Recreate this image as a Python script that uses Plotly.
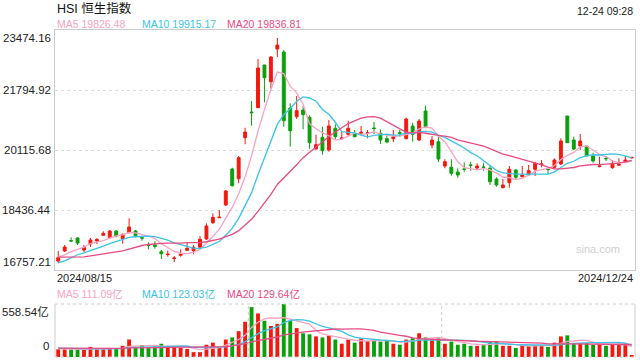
import plotly.graph_objects as go

# ---------------- data ----------------
date_labels = ["2024/08/15", "2024/12/24"]
title_text = "HSI 恒生指数"
time_text = "12-24 09:28"

opens = [17009, 17289, 17580, 17653, 17317, 17485, 17570, 17728, 17661, 17848,
         17633, 17801, 17848, 17660, 17460, 17457, 17269, 17185, 17080, 17168,
         17308, 17297, 17392, 17626, 18081, 18220, 18577, 19584, 19312, 20460,
         21179, 21300, 22494, 22027, 22942, 22858, 21291, 21048, 21235, 21030,
         20143, 20471, 20115, 20723, 20430, 20555, 20563, 20583, 20583, 20732,
         20583, 20432, 20432, 20600, 20432, 20787, 20395, 21207, 20255, 20348,
         19667, 19631, 19500, 19585, 19695, 19611, 19640, 19604, 19304, 19061,
         19201, 19556, 19369, 19416, 19575, 19705, 19580, 19631, 19724, 21067,
         20395, 20227, 20227, 19948, 19650, 19880, 19620, 19690, 19790, 19895]
highs = [17289, 17457, 17672, 17672, 17457, 17653, 17650, 17840, 17877, 17877,
         17784, 18204, 17877, 17717, 17532, 17560, 17317, 17297, 17149, 17336,
         17532, 17457, 17709, 18064, 18344, 18436, 18996, 19621, 19948, 20740,
         21487, 22662, 22500, 22746, 23250, 22914, 21422, 21627, 21347, 21086,
         20544, 20768, 20955, 20835, 20628, 20936, 20675, 20787, 20675, 20899,
         20695, 20535, 20675, 20675, 21020, 20880, 20983, 21356, 20507, 20507,
         19855, 19855, 19604, 19771, 19788, 19743, 19760, 19667, 19352, 19304,
         19667, 19575, 19667, 19696, 19788, 19836, 19603, 19883, 20443, 21070,
         20488, 20563, 20230, 20040, 19929, 19948, 19836, 19883, 19948, 19920]
lows = [16944, 17261, 17549, 17457, 17261, 17401, 17485, 17720, 17633, 17672,
        17493, 17784, 17672, 17577, 17336, 17353, 17065, 17130, 16981, 17130,
        17300, 17196, 17385, 17597, 18045, 18210, 18548, 19089, 19183, 20275,
        20795, 21290, 21450, 21831, 22718, 20768, 20208, 20983, 20695, 20152,
        20135, 19985, 20068, 20414, 20395, 20488, 20471, 20536, 20443, 20563,
        20283, 20302, 20339, 20488, 20414, 20348, 20367, 20723, 20163, 19779,
        19604, 19397, 19341, 19508, 19536, 19556, 19536, 19136, 19089, 19043,
        19061, 19276, 19352, 19388, 19388, 19631, 19444, 19604, 19696, 20315,
        20115, 20115, 19945, 19761, 19631, 19808, 19592, 19667, 19770, 19880]
closes = [17101, 17401, 17569, 17513, 17392, 17597, 17612, 17784, 17848, 17709,
          17745, 17961, 17717, 17650, 17450, 17420, 17213, 17200, 17093, 17205,
          17364, 17392, 17616, 17989, 18231, 18235, 18968, 19117, 19900, 20619,
          21160, 22411, 22139, 22718, 23054, 20936, 20656, 21216, 21104, 20320,
          20264, 20096, 20787, 20488, 20455, 20723, 20488, 20611, 20600, 20715,
          20395, 20339, 20488, 20585, 20983, 20555, 20927, 20768, 20395, 19863,
          19788, 19463, 19416, 19575, 19685, 19667, 19630, 19228, 19136, 19136,
          19575, 19352, 19416, 19536, 19743, 19725, 19570, 19836, 20367, 20320,
          20143, 20367, 19948, 19808, 19667, 19870, 19743, 19715, 19836, 19910]
# turnover, 亿
volumes = [81, 81, 81, 81, 81, 107, 81, 81, 88, 88,
           118, 184, 99, 125, 99, 110, 140, 110, 110, 96,
           85, 51, 51, 129, 151, 107, 184, 206, 272, 371,
           526, 459, 382, 327, 349, 558.54, 382, 305, 250, 239,
           217, 206, 224, 184, 140, 184, 151, 195, 169, 176,
           162, 176, 140, 129, 184, 198, 250, 206, 176, 198,
           140, 162, 129, 140, 118, 118, 132, 162, 165, 118,
           118, 96, 125, 118, 125, 118, 107, 151, 217, 228,
           140, 147, 147, 129, 132, 118, 136, 140, 132, 15]
# sessions before the window (needed for the moving averages at the left edge)
prior_closes = [17417, 17635, 17469, 17311, 17005, 17021, 17238, 17003, 17344, 17304,
                16945, 16698, 16647, 16877, 16891, 17091, 17112, 17174, 17113]
prior_volumes = [98, 92, 105, 88, 96, 101, 90, 94, 99, 87,
                 103, 110, 95, 89, 92, 97, 85, 90, 93]

price_ticks = [16757.21, 18436.44, 20115.68, 21794.92, 23474.16]
vol_ticks = [0, 558.54]
vol_tick_labels = ["0", "558.54亿"]
ma_periods = [5, 10, 20]
ma_labels = ["MA5 19826.48", "MA10 19915.17", "MA20 19836.81"]
vol_ma_labels = ["MA5 111.09亿", "MA10 123.03亿", "MA20 129.64亿"]

# ---------------- styling ----------------
RED = "#f2190f"
GREEN = "#0aa00a"
MA_COLORS = ["#f7a3c3", "#3cc3e6", "#ea4a84"]
FONT = "Liberation Sans, Arial, Noto Sans CJK SC, sans-serif"
BORDER = "#cccccc"
GRID = "#dddddd"

W, H = 640, 360
L, R, T, B = 55, 5, 30, 3
PH = H - T - B
price_bottom_px, vol_top_px = 270, 304


def py(px):
    """pixel row -> paper y"""
    return (H - B - px) / PH


def pxx(px):
    return (px - L) / (W - L - R)


def moving_average(history, values, n):
    full = list(history) + list(values)
    off = len(history)
    return [sum(full[off + i - n + 1: off + i + 1]) / n for i in range(len(values))]


n = len(closes)
x = list(range(n))
bar_colors = [RED if c >= o else GREEN for o, c in zip(opens, closes)]

fig = go.Figure()
fig.add_trace(go.Candlestick(
    x=x, open=opens, high=highs, low=lows, close=closes,
    increasing=dict(line=dict(color=RED, width=1), fillcolor=RED),
    decreasing=dict(line=dict(color=GREEN, width=1), fillcolor=GREEN),
    whiskerwidth=0, xaxis="x", yaxis="y", showlegend=False, hoverinfo="none"))

for p, col in zip(ma_periods, MA_COLORS):
    fig.add_trace(go.Scatter(x=x, y=moving_average(prior_closes, closes, p), mode="lines",
                             line=dict(color=col, width=1.3), xaxis="x", yaxis="y",
                             showlegend=False, hoverinfo="skip"))

fig.add_trace(go.Bar(x=x, y=volumes, marker=dict(color=bar_colors, line=dict(width=0)),
                     width=0.6, xaxis="x2", yaxis="y2", showlegend=False, hoverinfo="skip"))
for p, col in zip(ma_periods, MA_COLORS):
    fig.add_trace(go.Scatter(x=x, y=moving_average(prior_volumes, volumes, p), mode="lines",
                             line=dict(color=col, width=1.3), xaxis="x2", yaxis="y2",
                             showlegend=False, hoverinfo="skip"))

xr = [-0.5, n - 0.5]
fig.update_layout(
    width=W, height=H, margin=dict(l=L, r=R, t=T, b=B),
    paper_bgcolor="white", plot_bgcolor="white",
    font=dict(family=FONT, size=11, color="#222"),
    boxgap=0.36,
    bargap=0.3,
    xaxis=dict(range=xr, showticklabels=False, showgrid=False, zeroline=False,
               showline=True, mirror=True, linecolor=BORDER, linewidth=1,
               rangeslider=dict(visible=False), anchor="y", fixedrange=True),
    yaxis=dict(domain=[py(price_bottom_px), 1], range=[price_ticks[0], price_ticks[-1]],
               tickvals=price_ticks[1:-1], showticklabels=False, ticks="",
               showgrid=True, gridcolor=GRID, griddash="dot", gridwidth=1,
               zeroline=False, showline=True, mirror=True, linecolor=BORDER, linewidth=1,
               anchor="x"),
    xaxis2=dict(range=xr, showticklabels=False, showgrid=False, zeroline=False,
                showline=False, anchor="y2", matches=None),
    yaxis2=dict(domain=[0, py(vol_top_px)], range=[vol_ticks[0], vol_ticks[-1]],
                showticklabels=False, showgrid=False, zeroline=False, showline=False,
                anchor="x2"),
)

# volume panel frame
shapes = []
for xs in (0, 1):
    shapes.append(dict(type="line", xref="x2 domain", yref="y2 domain", x0=xs, x1=xs, y0=0, y1=1,
                       line=dict(color=BORDER, width=1)))
for xs in (1 / 3, 2 / 3):
    shapes.append(dict(type="line", xref="x2 domain", yref="y2 domain", x0=xs, x1=xs, y0=0, y1=1,
                       line=dict(color=BORDER, width=1, dash="dot")))
for ys in (0, 1):
    shapes.append(dict(type="line", xref="x2 domain", yref="y2 domain", x0=0, x1=1, y0=ys, y1=ys,
                       line=dict(color=BORDER, width=1, dash="dot")))
fig.update_layout(shapes=shapes)

ann = []
# title and time
ann.append(dict(text=title_text, x=0, y=py(8), xref="paper", yref="paper", xanchor="left",
                yanchor="middle", showarrow=False, font=dict(size=12.5, color="#111")))
ann.append(dict(text=time_text, x=1, y=py(11), xref="paper", yref="paper", xanchor="right",
                yanchor="middle", showarrow=False, font=dict(size=10.5, color="#222")))
# MA legends
leg_x = [55, 140, 225]
for lab, col, lx in zip(ma_labels, MA_COLORS, leg_x):
    ann.append(dict(text=lab, x=pxx(lx), y=py(23.7), xref="paper", yref="paper", xanchor="left",
                    yanchor="middle", showarrow=False, font=dict(size=10.5, color=col)))
for lab, col, lx in zip(vol_ma_labels, MA_COLORS, leg_x):
    ann.append(dict(text=lab, x=pxx(lx), y=py(294), xref="paper", yref="paper", xanchor="left",
                    yanchor="middle", showarrow=False, font=dict(size=10.5, color=col)))
# date labels
ann.append(dict(text=date_labels[0], x=0, y=py(278), xref="paper", yref="paper", xanchor="left",
                yanchor="middle", showarrow=False, font=dict(size=11, color="#222")))
ann.append(dict(text=date_labels[1], x=1, y=py(278), xref="paper", yref="paper", xanchor="right",
                yanchor="middle", showarrow=False, font=dict(size=11, color="#222")))
# price axis labels
for i, v in enumerate(price_ticks):
    ya = "bottom" if i == 0 else ("top" if i == len(price_ticks) - 1 else "middle")
    ann.append(dict(text=f"{v:.2f}", x=0, y=v, xref="paper", yref="y", xanchor="right",
                    yanchor=ya, xshift=-2, showarrow=False, font=dict(size=11.5, color="#222")))
# volume axis labels
for v, lab in zip(vol_ticks, vol_tick_labels):
    ya = "bottom" if v == vol_ticks[0] else "top"
    ann.append(dict(text=lab, x=0, y=v, xref="paper", yref="y2", xanchor="right",
                    yanchor=ya, xshift=-4, yshift=(3 if v == vol_ticks[0] else 0),
                    showarrow=False, font=dict(size=11.5, color="#222")))
# watermark
ann.append(dict(text="sina.com", x=pxx(622), y=py(249.5), xref="paper", yref="paper",
                xanchor="right", yanchor="middle", showarrow=False,
                font=dict(size=11, color="#cfcfcf")))
fig.update_layout(annotations=ann)

fig.write_html("out.html", config={"displayModeBar": False},
               post_script="document.body.style.margin='0';document.body.style.overflow='hidden';")
